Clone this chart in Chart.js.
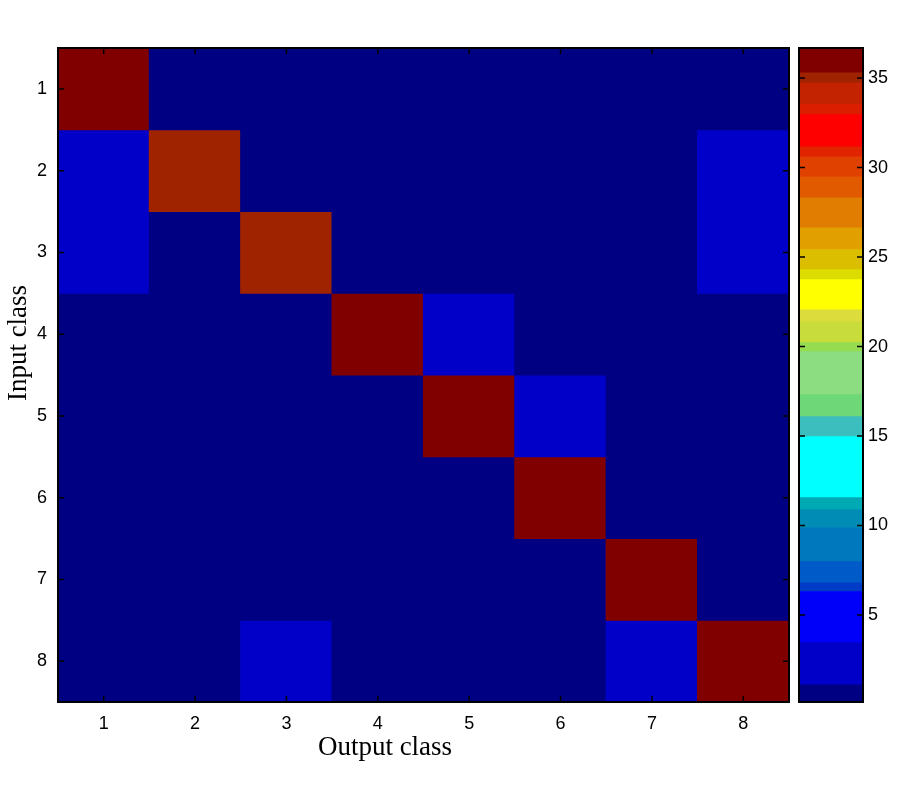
<!DOCTYPE html>
<html>
<head>
<meta charset="utf-8">
<script src="https://cdn.jsdelivr.net/npm/chart.js@4/dist/chart.umd.min.js"></script>
<style>
  html, body { margin: 0; padding: 0; background: #ffffff; }
  #wrap { position: relative; width: 900px; height: 800px; }
  #heat { position: absolute; left: 0; top: 0; }
  #cbar { position: absolute; left: 790px; top: 0; }
</style>
</head>
<body>
<div id="wrap">
  <canvas id="heat" width="900" height="800"></canvas>
  <canvas id="cbar" width="110" height="800"></canvas>
</div>
<script>
// ---------- data ----------
const outputClasses = ['1', '2', '3', '4', '5', '6', '7', '8'];
const inputClasses = [1, 2, 3, 4, 5, 6, 7, 8];
const row1 = [36.7, 0, 0, 0, 0, 0, 0, 0];
const row2 = [2, 35, 0, 0, 0, 0, 0, 2];
const row3 = [2, 0, 35, 0, 0, 0, 0, 2];
const row4 = [0, 0, 0, 36.7, 2, 0, 0, 0];
const row5 = [0, 0, 0, 0, 36.7, 2, 0, 0];
const row6 = [0, 0, 0, 0, 0, 36.7, 0, 0];
const row7 = [0, 0, 0, 0, 0, 0, 36.7, 0];
const row8 = [0, 0, 2, 0, 0, 0, 2, 36.7];
const rows = [row1, row2, row3, row4, row5, row6, row7, row8];

// colour bar bands (bottom to top)
const bandEdges = [0.14, 1.09, 3.44, 6.29, 6.79, 7.97, 9.86, 10.87, 11.54, 14.95, 16.07, 17.30,
  19.70, 20.20, 21.37, 22.04, 23.72, 24.28, 25.40, 26.62, 28.30, 29.47, 30.59, 31.15, 32.94,
  33.50, 34.72, 35.28, 36.68];
const bandColors = ['rgb(0,0,131)', 'rgb(0,0,200)', 'rgb(0,0,250)', 'rgb(0,60,200)', 'rgb(0,90,200)',
  'rgb(0,120,190)', 'rgb(0,140,180)', 'rgb(0,170,180)', 'rgb(0,255,255)', 'rgb(60,190,190)',
  'rgb(110,215,120)', 'rgb(140,220,130)', 'rgb(150,220,80)', 'rgb(200,220,60)', 'rgb(220,220,60)',
  'rgb(255,255,0)', 'rgb(220,220,0)', 'rgb(220,190,0)', 'rgb(225,160,0)', 'rgb(225,125,0)',
  'rgb(225,90,0)', 'rgb(225,65,0)', 'rgb(225,35,0)', 'rgb(255,0,0)', 'rgb(220,30,0)',
  'rgb(195,35,0)', 'rgb(160,35,0)', 'rgb(128,0,0)'];
const colorbarTicks = [5, 10, 15, 20, 25, 30, 35];

const xLabel = 'Output class';
const yLabel = 'Input class';

// ---------- helpers ----------
function colorFor(v) {
  for (let i = 0; i < bandColors.length; i++) {
    if (v < bandEdges[i + 1]) return bandColors[i];
  }
  return bandColors[bandColors.length - 1];
}

const tickFont = { family: '"Liberation Sans", Arial, sans-serif', size: 18 };
const labelFont = '27px "Liberation Serif", "Times New Roman", serif';

// inward tick marks + box
const boxPlugin = {
  id: 'box',
  afterDatasetsDraw(chart, args, opts) {
    const ctx = chart.ctx;
    const a = chart.chartArea;
    ctx.save();
    ctx.strokeStyle = '#000';
    ctx.lineWidth = 1.5;
    const L = opts.len || 6;
    if (opts.xTicks) {
      const xs = chart.scales.x;
      xs.ticks.forEach((t, i) => {
        const px = xs.getPixelForTick(i);
        ctx.beginPath();
        ctx.moveTo(px, a.bottom); ctx.lineTo(px, a.bottom - L);
        ctx.moveTo(px, a.top); ctx.lineTo(px, a.top + L);
        ctx.stroke();
      });
    }
    const ys = chart.scales.y;
    ys.ticks.forEach((t) => {
      const py = ys.getPixelForValue(t.value);
      ctx.beginPath();
      ctx.moveTo(a.left, py); ctx.lineTo(a.left + L, py);
      ctx.moveTo(a.right, py); ctx.lineTo(a.right - L, py);
      ctx.stroke();
    });
    ctx.lineWidth = 2;
    ctx.strokeRect(a.left, a.top, a.right - a.left, a.bottom - a.top);
    ctx.restore();
  }
};

const labelPlugin = {
  id: 'axisLabels',
  afterDraw(chart) {
    const ctx = chart.ctx;
    ctx.save();
    ctx.fillStyle = '#000';
    ctx.font = labelFont;
    ctx.textAlign = 'center';
    ctx.textBaseline = 'middle';
    ctx.fillText(xLabel, 385, 748);
    ctx.translate(19, 343);
    ctx.rotate(-Math.PI / 2);
    ctx.fillText(yLabel, 0, 0);
    ctx.restore();
  }
};

// ---------- heat map ----------
const heatDatasets = rows.map((vals, i) => ({
  label: 'Input ' + inputClasses[i],
  data: outputClasses.map(() => [inputClasses[i] - 0.5, inputClasses[i] + 0.5]),
  backgroundColor: vals.map(colorFor),
  borderWidth: 0,
  borderSkipped: false,
  inflateAmount: 0.6,
  grouped: false,
  barPercentage: 1,
  categoryPercentage: 1
}));

new Chart(document.getElementById('heat'), {
  type: 'bar',
  data: { labels: outputClasses, datasets: heatDatasets },
  plugins: [boxPlugin, labelPlugin],
  options: {
    responsive: false,
    animation: false,
    layout: { padding: { left: 0, top: 48, right: 111, bottom: 0 } },
    plugins: {
      legend: { display: false },
      tooltip: { enabled: false },
      box: { xTicks: true, len: 6 }
    },
    scales: {
      x: {
        type: 'category',
        grid: { display: false, drawTicks: false },
        border: { display: false },
        ticks: { color: '#000', font: tickFont, padding: 11, maxRotation: 0 },
        afterFit(s) { s.height = 98; }
      },
      y: {
        type: 'linear',
        reverse: true,
        min: 0.5,
        max: 8.5,
        grid: { display: false, drawTicks: false },
        border: { display: false },
        ticks: { color: '#000', font: tickFont, padding: 11 },
        afterBuildTicks(s) { s.ticks = inputClasses.map(v => ({ value: v })); },
        afterFit(s) { s.width = 58; }
      }
    }
  }
});

// ---------- colour bar ----------
const cbDatasets = bandColors.map((c, i) => ({
  label: 'band ' + i,
  data: [[bandEdges[i], bandEdges[i + 1]]],
  backgroundColor: c,
  borderWidth: 0,
  borderSkipped: false,
  inflateAmount: 0.6,
  grouped: false,
  barPercentage: 1,
  categoryPercentage: 1
}));

new Chart(document.getElementById('cbar'), {
  type: 'bar',
  data: { labels: [''], datasets: cbDatasets },
  plugins: [boxPlugin],
  options: {
    responsive: false,
    animation: false,
    layout: { padding: { left: 9, top: 48, right: 0, bottom: 98 } },
    plugins: {
      legend: { display: false },
      tooltip: { enabled: false },
      box: { xTicks: false, len: 6 }
    },
    scales: {
      x: { type: 'category', display: false },
      y: {
        type: 'linear',
        position: 'right',
        min: bandEdges[0],
        max: bandEdges[bandEdges.length - 1],
        grid: { display: false, drawTicks: false },
        border: { display: false },
        ticks: { color: '#000', font: tickFont, padding: 5 },
        afterBuildTicks(s) { s.ticks = colorbarTicks.map(v => ({ value: v })); },
        afterFit(s) { s.width = 37; }
      }
    }
  }
});
</script>
</body>
</html>
